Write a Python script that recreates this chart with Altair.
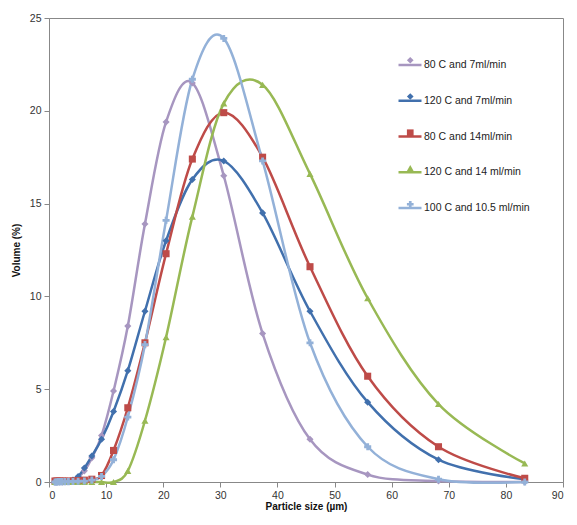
import altair as alt
import pandas as pd

sizes = [1.04, 1.27, 1.55, 1.9, 2.3, 2.8, 3.4, 4.2, 5.1, 6.2, 7.5, 9.2, 11.3, 13.8,
         16.8, 20.5, 25.1, 30.6, 37.4, 45.7, 55.8, 68.2, 83.3]

series_names = ["80 C and 7ml/min", "120 C and 7ml/min", "80 C and 14ml/min",
                "120 C and 14 ml/min", "100 C and 10.5 ml/min"]

v_80_7 = [0, 0, 0, 0, 0, 0.02, 0.04, 0.08, 0.25, 0.6, 1.3, 2.5, 4.9, 8.4,
          13.9, 19.4, 21.5, 16.5, 8.0, 2.3, 0.4, 0.05, 0]
v_120_7 = [0, 0, 0, 0, 0, 0.01, 0.03, 0.1, 0.3, 0.75, 1.4, 2.3, 3.8, 6.0,
           9.2, 13.0, 16.3, 17.3, 14.5, 9.2, 4.3, 1.2, 0.15]
v_80_14 = [0.05, 0.05, 0.05, 0.05, 0.05, 0.05, 0.05, 0.06, 0.08, 0.1, 0.15, 0.35, 1.7, 4.0,
           7.5, 12.3, 17.4, 19.9, 17.5, 11.6, 5.7, 1.9, 0.2]
v_120_14 = [0, 0, 0, 0, 0, 0, 0, 0, 0, 0, 0, 0, 0, 0.6,
            3.3, 7.8, 14.3, 20.4, 21.4, 16.6, 9.9, 4.2, 1.0]
v_100_105 = [0, 0, 0.02, 0.02, 0.02, 0.02, 0.02, 0.03, 0.04, 0.05, 0.1, 0.3, 1.2, 3.5,
             7.4, 14.1, 21.7, 23.9, 17.3, 7.5, 1.9, 0.15, 0]

all_vals = [v_80_7, v_120_7, v_80_14, v_120_14, v_100_105]
rows = []
for name, vals in zip(series_names, all_vals):
    for s, v in zip(sizes, vals):
        rows.append({"size": s, "volume": v, "series": name, "series2": name})
df = pd.DataFrame(rows)

colors = ["#A796C0", "#4170AD", "#BE4B48", "#98B954", "#93B1D8"]
shapes = ["diamond", "diamond", "square", "triangle-up", "cross"]

lab = dict(labelFont="Liberation Sans", labelFontSize=10.5, labelColor="#222222")

x = alt.X("size:Q", title="Particle size (µm)",
          scale=alt.Scale(domain=[0, 90], nice=False),
          axis=alt.Axis(values=list(range(0, 91, 10)), grid=False))
y = alt.Y("volume:Q", title="Volume (%)",
          scale=alt.Scale(domain=[0, 25], nice=False),
          axis=alt.Axis(values=list(range(0, 26, 5)), grid=False))

lines = alt.Chart(df).mark_line(interpolate="cardinal", strokeWidth=2.5).encode(
    x=x, y=y,
    color=alt.Color("series:N", scale=alt.Scale(domain=series_names, range=colors),
                    legend=alt.Legend(title=None, orient="none", legendX=348, legendY=34,
                                      symbolType="stroke", symbolSize=529,
                                      symbolStrokeWidth=2.5, rowPadding=16.75,
                                      labelOffset=1, **lab)),
    detail="series:N",
)
pleg = alt.Legend(title=None, orient="none", legendX=356, legendY=37, rowPadding=22.25,
                  symbolSize=45, labelExpr="''", symbolOpacity=1, **lab)
points = alt.Chart(df).mark_point(filled=True, size=50, opacity=1).encode(
    x=x, y=y,
    color=alt.Color("series2:N", scale=alt.Scale(domain=series_names, range=colors),
                    legend=pleg),
    shape=alt.Shape("series2:N", scale=alt.Scale(domain=series_names, range=shapes),
                    legend=pleg),
)

chart = alt.layer(lines, points).resolve_legend(
    color="independent", shape="independent"
).properties(
    width=514, height=464,
    autosize=alt.AutoSizeParams(type="none"),
    padding={"left": 41, "top": 10, "right": 6, "bottom": 33},
).configure_view(
    stroke="#888888", strokeWidth=1
).configure_axis(
    domainColor="#888888", tickColor="#888888", tickSize=5,
    labelFont="Liberation Sans", labelFontSize=10.5, labelColor="#333333",
    titleFont="Liberation Sans", titleFontSize=10, titleFontWeight="bold",
    titleColor="#111111", labelPadding=3
).configure_axisX(titlePadding=1).configure_axisY(titlePadding=8)

chart.save("out.html", embed_options={"renderer": "svg", "actions": False})
